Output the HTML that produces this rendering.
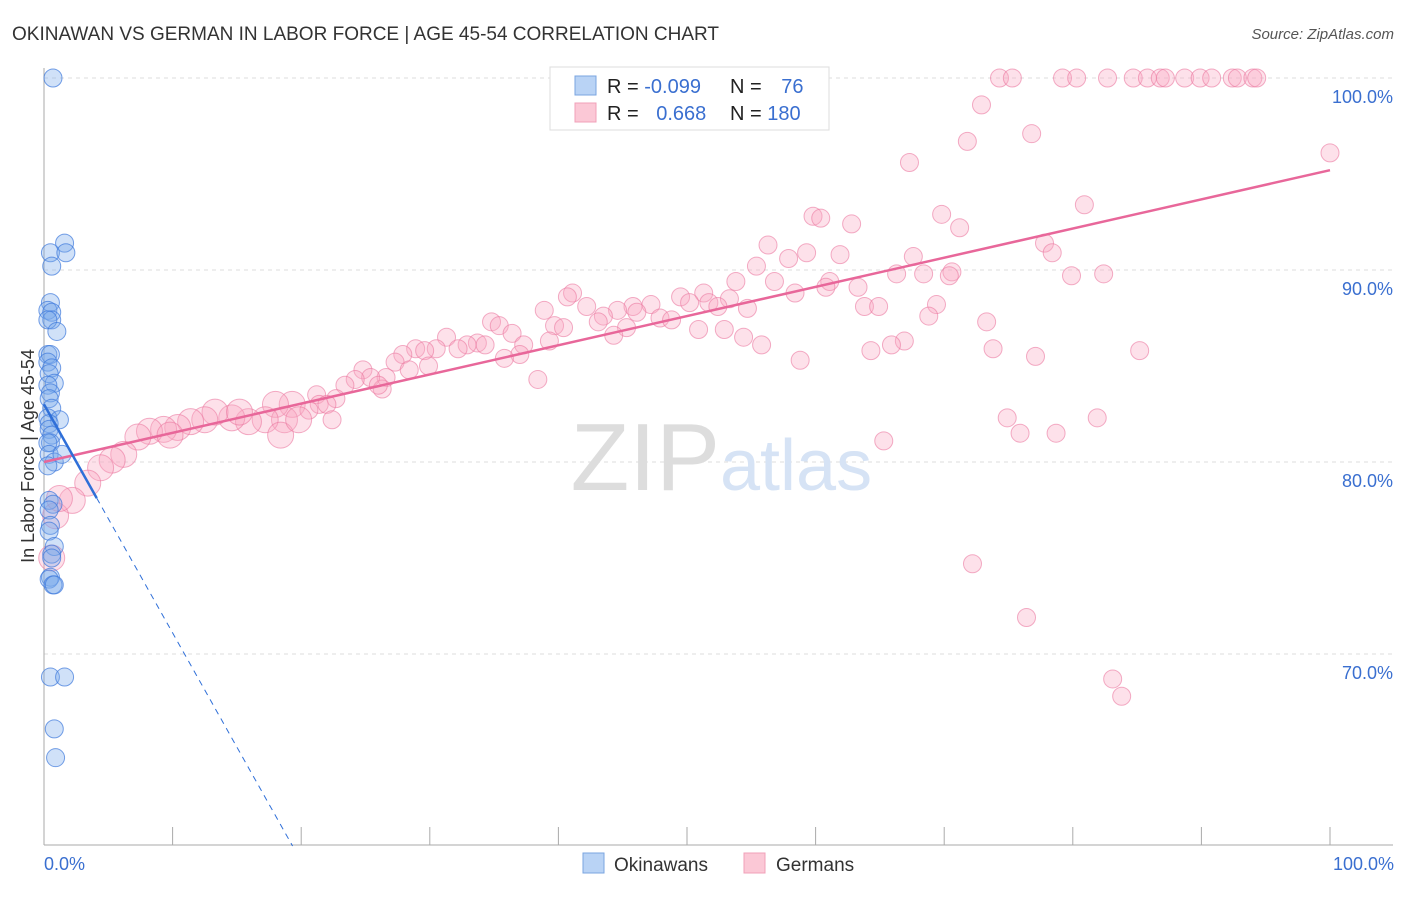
<!DOCTYPE html>
<html><head><meta charset="utf-8"><style>
body{margin:0;background:#fff;font-family:"Liberation Sans",sans-serif;}
svg text{font-family:"Liberation Sans",sans-serif;}
</style></head><body>
<svg width="1406" height="892" viewBox="0 0 1406 892">
<text x="12" y="40" font-size="19" fill="#333">OKINAWAN VS GERMAN IN LABOR FORCE | AGE 45-54 CORRELATION CHART</text>
<text x="1394" y="39" font-size="15" fill="#555" font-style="italic" text-anchor="end">Source: ZipAtlas.com</text>
<g id="grid"></g>
<g id="ticks"></g>
<text x="720" y="490" font-size="96" fill="#ddd" text-anchor="end" font-family="Liberation Serif">ZIP</text>
<text x="720" y="490" font-size="72" fill="#d6e3f5">atlas</text>
<g id="pts"></g>
<g id="lines"></g>
<text x="34" y="456" font-size="18" fill="#333" text-anchor="middle" transform="rotate(-90 34 456)">In Labor Force | Age 45-54</text>
<g>
<rect x="550" y="67" width="279" height="63" fill="#fff" stroke="#ddd"/>
<rect x="575" y="76" width="21" height="19" fill="#b9d3f5" stroke="#7aa5e0"/>
<rect x="575" y="103" width="21" height="19" fill="#fbc8d6" stroke="#f0a0b8"/>
<text x="607" y="93" font-size="20" fill="#222">R = <tspan fill="#3a6fd0">-0.099</tspan></text>
<text x="730" y="93" font-size="20" fill="#222">N = <tspan fill="#3a6fd0" dx="14">76</tspan></text>
<text x="607" y="120" font-size="20" fill="#222">R = <tspan fill="#3a6fd0" dx="12">0.668</tspan></text>
<text x="730" y="120" font-size="20" fill="#222">N = <tspan fill="#3a6fd0">180</tspan></text>
</g>
<g>
<rect x="583" y="853" width="21" height="20" fill="#b9d3f5" stroke="#7aa5e0"/>
<text x="614" y="871" font-size="19" fill="#333">Okinawans</text>
<rect x="744" y="853" width="21" height="20" fill="#fbc8d6" stroke="#f0a0b8"/>
<text x="776" y="871" font-size="19" fill="#333">Germans</text>
</g>
<text x="44" y="870" font-size="18" fill="#3a6fd0">0.0%</text>
<text x="1394" y="870" font-size="18" fill="#3a6fd0" text-anchor="end">100.0%</text>
</svg>
<script>
const yTicks=[100,90,80,70];
const yTickLabels=["100.0%","90.0%","80.0%","70.0%"];
const xTicks=[0,10,20,30,40,50,60,70,80,90,100];
const blueX=[0.7,1.6,0.5,1.7,0.6,0.5,0.3,0.6,0.6,0.3,1.0,0.3,0.5,0.3,0.6,0.4,0.8,0.3,0.5,0.4,0.6,0.3,1.2,0.4,0.4,0.6,0.5,0.3,0.4,0.8,0.3,0.4,1.4,0.7,0.4,0.5,0.4,0.8,0.6,0.5,0.4,0.7,0.8,0.5,1.6,0.8,0.9,0.6];
const blueY=[100,91.4,90.9,90.9,90.2,88.3,87.9,87.8,87.4,87.4,86.8,85.6,85.6,85.2,84.9,84.6,84.1,84.0,83.6,83.3,82.8,82.3,82.2,82.0,81.7,81.4,81.0,81.0,80.4,80.0,79.8,78.0,80.4,77.8,77.5,76.7,76.4,75.6,75.2,74.0,73.9,73.6,73.6,68.8,68.8,66.1,64.6,75.0];
const pinkX=[74.3,75.3,79.2,80.3,82.7,84.7,85.8,86.8,87.2,88.7,89.9,90.8,92.4,92.8,94.0,94.3,72.9,76.8,71.8,67.3,100,80.9,69.8,59.8,60.4,62.8,71.2,56.3,77.8,78.4,59.3,61.9,67.6,57.9,55.4,79.9,82.4,66.3,68.4,70.6,70.4,56.8,53.8,61.1,63.3,60.8,58.4,41.1,40.7,51.3,53.3,49.5,50.2,51.7,52.4,47.2,45.8,42.2,38.9,44.6,46.1,43.5,47.9,48.8,43.1,54.7,63.8,64.9,69.4,68.8,73.3,45.3,39.7,40.4,34.8,35.4,36.4,50.9,52.9,44.3,54.4,66.9,65.9,64.3,55.8,73.8,77.1,85.2,58.8,31.3,33.7,34.3,32.9,32.2,30.5,28.9,29.6,39.3,37.3,37.0,35.8,27.9,27.3,29.9,28.4,24.8,26.6,25.4,24.2,23.4,38.4,26.3,26.0,21.2,22.7,21.4,22.0,19.3,20.6,74.9,81.9,22.4,75.9,78.7,65.3,72.2,76.4,83.1,83.8,18.0,18.7,17.2,15.9,14.6,13.3,12.5,11.4,10.4,9.3,8.2,7.3,6.2,5.3,4.4,3.4,2.2,0.9,0.6,9.8,18.4,19.8,15.2,1.2];
const pinkY=[100,100,100,100,100,100,100,100,100,100,100,100,100,100,100,100,98.6,97.1,96.7,95.6,96.1,93.4,92.9,92.8,92.7,92.4,92.2,91.3,91.4,90.9,90.9,90.8,90.7,90.6,90.2,89.7,89.8,89.8,89.8,89.9,89.7,89.4,89.4,89.4,89.1,89.1,88.8,88.8,88.6,88.8,88.5,88.6,88.3,88.3,88.1,88.2,88.1,88.1,87.9,87.9,87.8,87.6,87.5,87.4,87.3,88.0,88.1,88.1,88.2,87.6,87.3,87.0,87.1,87.0,87.3,87.1,86.7,86.9,86.9,86.6,86.5,86.3,86.1,85.8,86.1,85.9,85.5,85.8,85.3,86.5,86.2,86.1,86.1,85.9,85.9,85.9,85.8,86.3,86.1,85.6,85.4,85.6,85.2,85.0,84.8,84.8,84.4,84.4,84.3,84.0,84.3,83.8,84.0,83.5,83.3,83.0,83.0,83.0,82.7,82.3,82.3,82.2,81.5,81.5,81.1,74.7,71.9,68.7,67.8,83.0,82.2,82.2,82.1,82.3,82.6,82.2,82.1,81.8,81.7,81.6,81.3,80.4,80.1,79.7,78.9,78.0,77.2,75.0,81.4,81.4,82.2,82.6,78.1];
const blueTrend=[83.0,-1.19];
const pinkTrend=[80.0,0.152];
const X=v=>44+v*12.86, Y=v=>78+(100-v)*19.2;
const NS="http://www.w3.org/2000/svg";
function mk(t,a,p){const e=document.createElementNS(NS,t);for(const k in a)e.setAttribute(k,a[k]);p.appendChild(e);return e;}
const grid=document.getElementById('grid'),ticks=document.getElementById('ticks');
yTicks.forEach((v,i)=>{
 const l=mk('line',{x1:44,x2:1393,y1:Y(v),y2:Y(v),stroke:'#ddd','stroke-dasharray':'4,4'},grid);
 
 
 const t=mk('text',{x:1393,y:Y(v)+25,'font-size':18,fill:'#3a6fd0','text-anchor':'end'},ticks);
 t.textContent=yTickLabels[i];
 
 
});
mk('line',{x1:44,x2:44,y1:68,y2:845,stroke:'#aaa'},ticks);
mk('line',{x1:44,x2:1393,y1:845,y2:845,stroke:'#aaa'},ticks);
xTicks.forEach(v=>{const l=mk('line',{x1:X(v),x2:X(v),y1:827,y2:845,stroke:'#aaa'},ticks);
 
 });
const pts=document.getElementById('pts');
pinkX.forEach((x,i)=>{const c=mk('circle',{cx:X(x),cy:Y(pinkY[i]),r:x<20?13:9,fill:'rgba(248,170,195,0.35)',stroke:'rgba(235,120,160,0.6)','stroke-width':1},pts);
 
 });
blueX.forEach((x,i)=>{const c=mk('circle',{cx:X(x),cy:Y(blueY[i]),r:9,fill:'rgba(120,170,235,0.35)',stroke:'rgba(60,120,220,0.7)','stroke-width':1},pts);
 
 });
const lines=document.getElementById('lines');
const by=x=>blueTrend[0]+blueTrend[1]*x, py=x=>pinkTrend[0]+pinkTrend[1]*x;
const xEnd=(blueTrend[0]-60)/-blueTrend[1];
let e=mk('line',{x1:X(0),y1:Y(py(0)),x2:X(100),y2:Y(py(100)),stroke:'#e8679a','stroke-width':2.5},lines);


e=mk('line',{x1:X(0),y1:Y(by(0)),x2:X(4.1),y2:Y(by(4.1)),stroke:'#2f6fd8','stroke-width':2.5},lines);


e=mk('line',{x1:X(4.1),y1:Y(by(4.1)),x2:X(xEnd),y2:Y(60),stroke:'#2f6fd8','stroke-width':1,'stroke-dasharray':'6,5'},lines);


</script>
</body></html>
